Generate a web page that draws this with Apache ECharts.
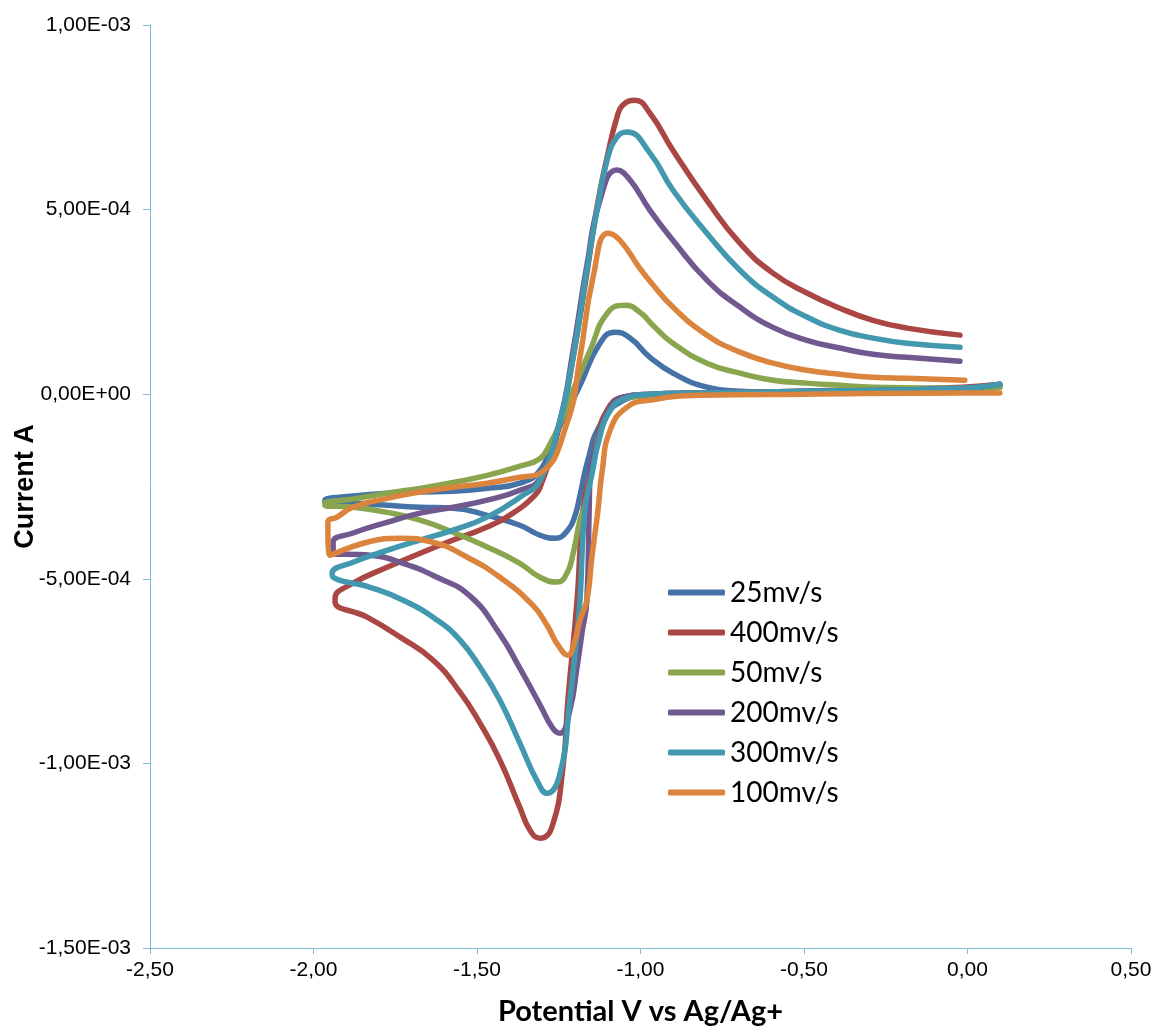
<!DOCTYPE html>
<html><head><meta charset="utf-8">
<script src="https://cdn.jsdelivr.net/npm/echarts@6/dist/echarts.min.js"></script>
<style>html,body{margin:0;padding:0;background:#fff}#c{width:1155px;height:1029px}</style>
</head><body><div id="c"></div>
<script>
// Series names (legend order)
const seriesNames = ['25mv/s', '400mv/s', '50mv/s', '200mv/s', '300mv/s', '100mv/s'];
const seriesColors = ['#4572A7', '#AA4643', '#89A54E', '#71588F', '#4198AF', '#DB843D'];

// Tick labels
const xTickLabels = ['-2,50', '-2,00', '-1,50', '-1,00', '-0,50', '0,00', '0,50'];
const yTickLabels = ['-1,50E-03', '-1,00E-03', '-5,00E-04', '0,00E+00', '5,00E-04', '1,00E-03'];

// Cyclic voltammograms: [potential V, current A]
const cv25 = [
  [0.099, 1.9e-5], [-0.014, 1.1e-5], [-0.5, 5e-6], [-0.818, 3e-6], [-0.971, -3e-6], [-1.063, -2.2e-5],
  [-1.124, -8.4e-5], [-1.161, -1.79e-4], [-1.185, -2.74e-4], [-1.200, -3.28e-4], [-1.222, -3.68e-4],
  [-1.261, -3.90e-4], [-1.307, -3.82e-4], [-1.369, -3.55e-4], [-1.469, -3.28e-4], [-1.573, -3.09e-4],
  [-1.674, -3.06e-4], [-1.775, -3.01e-4], [-1.879, -2.95e-4], [-1.965, -2.93e-4],
  [-1.965, -2.87e-4], [-1.879, -2.76e-4], [-1.775, -2.68e-4], [-1.674, -2.65e-4], [-1.573, -2.63e-4],
  [-1.469, -2.55e-4], [-1.369, -2.41e-4], [-1.307, -2.06e-4], [-1.268, -1.25e-4], [-1.225, -4.9e-5],
  [-1.185, 2.4e-5], [-1.124, 1.38e-4], [-1.078, 1.68e-4], [-1.032, 1.52e-4], [-0.971, 1.00e-4],
  [-0.901, 5.7e-5], [-0.797, 1.9e-5], [-0.696, 8e-6], [-0.595, 5e-6], [-0.008, 5e-6]
];
const cv400 = [
  [0.099, 2.7e-5], [-0.014, 1.9e-5], [-0.5, 8e-6], [-0.818, 3e-6], [-0.971, 0], [-1.054, -8e-6],
  [-1.102, -4.3e-5], [-1.133, -1.25e-4], [-1.154, -2.14e-4], [-1.176, -3.14e-4], [-1.194, -5.58e-4],
  [-1.222, -8.29e-4], [-1.237, -1.010e-3], [-1.271, -1.173e-3], [-1.307, -1.203e-3], [-1.338, -1.181e-3],
  [-1.369, -1.119e-3], [-1.430, -9.91e-4], [-1.491, -8.91e-4], [-1.552, -8.07e-4], [-1.635, -7.20e-4],
  [-1.735, -6.58e-4], [-1.836, -6.04e-4], [-1.934, -5.63e-4],
  [-1.934, -5.53e-4], [-1.879, -5.12e-4], [-1.775, -4.69e-4], [-1.674, -4.31e-4], [-1.573, -3.95e-4],
  [-1.469, -3.60e-4], [-1.390, -3.22e-4], [-1.329, -2.79e-4], [-1.307, -2.52e-4], [-1.246, -7.9e-5],
  [-1.206, 1.00e-4], [-1.164, 3.28e-4], [-1.133, 5.07e-4], [-1.102, 6.42e-4], [-1.072, 7.50e-4],
  [-1.054, 7.83e-4], [-1.017, 7.96e-4], [-0.971, 7.61e-4], [-0.901, 6.61e-4],
  [-0.797, 5.25e-4], [-0.696, 4.09e-4], [-0.595, 3.28e-4], [-0.491, 2.74e-4], [-0.390, 2.33e-4],
  [-0.289, 2.00e-4], [-0.185, 1.79e-4], [-0.023, 1.60e-4]
];
const cv50 = [
  [0.099, 1.9e-5], [-0.014, 1.1e-5], [-0.5, 5e-6], [-0.818, 3e-6], [-0.971, -3e-6], [-1.063, -1.6e-5],
  [-1.109, -7.0e-5], [-1.139, -1.52e-4], [-1.154, -2.33e-4], [-1.170, -3.01e-4], [-1.185, -3.41e-4],
  [-1.206, -4.31e-4], [-1.225, -4.85e-4], [-1.255, -5.09e-4], [-1.307, -4.96e-4], [-1.369, -4.58e-4],
  [-1.469, -4.14e-4], [-1.573, -3.74e-4], [-1.674, -3.41e-4], [-1.775, -3.20e-4], [-1.879, -3.06e-4],
  [-1.965, -3.01e-4],
  [-1.965, -2.95e-4], [-1.879, -2.84e-4], [-1.775, -2.68e-4], [-1.674, -2.55e-4], [-1.573, -2.39e-4],
  [-1.469, -2.20e-4], [-1.369, -1.95e-4], [-1.307, -1.74e-4], [-1.277, -1.35e-4], [-1.246, -7.9e-5],
  [-1.206, 1.1e-5], [-1.154, 1.19e-4], [-1.102, 2.19e-4], [-1.047, 2.41e-4],
  [-1.002, 2.22e-4], [-0.960, 1.85e-4], [-0.901, 1.38e-4], [-0.797, 8.4e-5], [-0.696, 5.7e-5],
  [-0.595, 3.8e-5], [-0.491, 3.0e-5], [-0.390, 2.4e-5], [-0.289, 1.9e-5], [-0.008, 1.6e-5]
];
const cv200 = [
  [0.099, 2.7e-5], [-0.014, 1.6e-5], [-0.5, 8e-6], [-0.818, 3e-6], [-0.971, 0], [-1.054, -8e-6],
  [-1.099, -4.6e-5], [-1.130, -1.25e-4], [-1.154, -2.14e-4], [-1.157, -3.14e-4], [-1.164, -5.58e-4],
  [-1.179, -6.47e-4], [-1.194, -7.39e-4], [-1.216, -8.56e-4], [-1.246, -9.18e-4], [-1.268, -9.05e-4],
  [-1.307, -8.42e-4], [-1.369, -7.42e-4], [-1.430, -6.50e-4], [-1.521, -5.47e-4],
  [-1.622, -4.96e-4], [-1.726, -4.58e-4], [-1.827, -4.36e-4], [-1.940, -4.31e-4],
  [-1.940, -4.01e-4], [-1.879, -3.76e-4], [-1.775, -3.47e-4], [-1.674, -3.22e-4], [-1.573, -3.06e-4],
  [-1.469, -2.87e-4], [-1.369, -2.60e-4], [-1.307, -2.28e-4], [-1.246, -7.0e-5], [-1.206, 1.19e-4],
  [-1.164, 3.49e-4], [-1.124, 5.25e-4], [-1.072, 6.07e-4], [-1.032, 5.80e-4],
  [-0.971, 4.98e-4], [-0.901, 4.17e-4], [-0.797, 3.09e-4], [-0.696, 2.36e-4], [-0.595, 1.81e-4],
  [-0.491, 1.46e-4], [-0.390, 1.25e-4], [-0.289, 1.08e-4], [-0.185, 1.00e-4], [-0.023, 8.9e-5]
];
const cv300 = [
  [0.099, 2.7e-5], [-0.014, 1.6e-5], [-0.5, 8e-6], [-0.818, 3e-6], [-0.971, 0], [-1.047, -1.1e-5],
  [-1.096, -4.9e-5], [-1.127, -1.25e-4], [-1.148, -2.14e-4], [-1.170, -3.14e-4], [-1.185, -5.58e-4],
  [-1.194, -6.47e-4], [-1.216, -8.29e-4], [-1.246, -1.027e-3], [-1.286, -1.081e-3], [-1.317, -1.046e-3],
  [-1.369, -9.45e-4], [-1.430, -8.29e-4], [-1.491, -7.39e-4], [-1.552, -6.66e-4], [-1.622, -6.12e-4],
  [-1.726, -5.58e-4], [-1.827, -5.23e-4], [-1.940, -4.96e-4],
  [-1.943, -4.85e-4], [-1.879, -4.55e-4], [-1.775, -4.23e-4], [-1.674, -3.95e-4], [-1.573, -3.68e-4],
  [-1.469, -3.33e-4], [-1.369, -2.79e-4], [-1.307, -2.33e-4], [-1.246, -7.0e-5], [-1.206, 1.00e-4],
  [-1.164, 3.36e-4], [-1.133, 4.98e-4], [-1.102, 6.34e-4], [-1.072, 6.96e-4], [-1.041, 7.10e-4],
  [-0.971, 6.53e-4], [-0.901, 5.53e-4], [-0.797, 4.36e-4], [-0.696, 3.36e-4],
  [-0.595, 2.63e-4], [-0.491, 2.09e-4], [-0.390, 1.73e-4], [-0.289, 1.52e-4], [-0.185, 1.38e-4],
  [-0.023, 1.27e-4]
];
const cv100 = [
  [0.099, 3e-6], [-0.014, 3e-6], [-0.5, 0], [-0.818, -3e-6], [-0.971, -1.6e-5], [-1.041, -3.5e-5],
  [-1.093, -9.8e-5], [-1.118, -2.14e-4], [-1.130, -3.14e-4], [-1.148, -4.36e-4], [-1.164, -5.58e-4],
  [-1.185, -6.12e-4], [-1.200, -6.66e-4], [-1.222, -7.07e-4], [-1.252, -6.80e-4], [-1.286, -6.26e-4],
  [-1.329, -5.72e-4], [-1.430, -4.96e-4], [-1.531, -4.41e-4], [-1.635, -4.01e-4], [-1.735, -3.90e-4],
  [-1.836, -4.01e-4], [-1.950, -4.36e-4],
  [-1.956, -3.47e-4], [-1.928, -3.33e-4], [-1.879, -3.06e-4], [-1.775, -2.82e-4], [-1.674, -2.65e-4],
  [-1.573, -2.52e-4], [-1.469, -2.41e-4], [-1.369, -2.25e-4], [-1.307, -2.14e-4], [-1.225, -7.9e-5],
  [-1.185, 1.00e-4], [-1.145, 3.17e-4], [-1.099, 4.36e-4], [-1.063, 4.17e-4],
  [-1.002, 3.41e-4], [-0.971, 3.06e-4], [-0.901, 2.36e-4], [-0.797, 1.60e-4],
  [-0.696, 1.14e-4], [-0.595, 8.4e-5], [-0.491, 6.5e-5], [-0.390, 5.4e-5], [-0.289, 4.6e-5],
  [-0.185, 4.3e-5], [-0.008, 3.8e-5]
];
const seriesData = [cv25, cv400, cv50, cv200, cv300, cv100];

const X_MIN = -2.5, X_MAX = 0.5, X_INT = 0.5;
const Y_MIN = -1.5e-3, Y_MAX = 1e-3, Y_INT = 5e-4;
const axisColor = '#7DBCD6';

const chart = echarts.init(document.getElementById('c'), null, { renderer: 'canvas' });
chart.setOption({
  animation: false,
  backgroundColor: '#ffffff',
  grid: { left: 150, right: 24, top: 25, bottom: 81, containLabel: false, outerBoundsMode: 'none' },
  legend: {
    orient: 'vertical', left: 668, top: 578, padding: 0,
    itemWidth: 57, itemHeight: 6, itemGap: 11, icon: 'roundRect',
    data: seriesNames.map((n, i) => ({ name: n, itemStyle: { color: seriesColors[i] } })),
    textStyle: { fontFamily: 'Lato', fontSize: 28, lineHeight: 29, color: '#000' }
  },
  xAxis: {
    type: 'value', min: X_MIN, max: X_MAX, interval: X_INT,
    axisLine: { onZero: false, lineStyle: { color: axisColor, width: 1 } },
    axisTick: { show: true, length: 6, lineStyle: { color: axisColor } },
    splitLine: { show: false },
    axisLabel: {
      formatter: v => xTickLabels[Math.round((v - X_MIN) / X_INT)],
      fontFamily: 'Liberation Sans', fontSize: 21, color: '#000', margin: 12
    },
    name: 'Potential V vs Ag/Ag+', nameLocation: 'middle', nameGap: 49, nameMoveOverlap: false,
    nameTextStyle: { fontFamily: 'Lato', fontWeight: 'bold', fontSize: 29, color: '#000' }
  },
  yAxis: {
    type: 'value', min: Y_MIN, max: Y_MAX, interval: Y_INT,
    axisLine: { show: true, onZero: false, lineStyle: { color: axisColor, width: 1 } },
    axisTick: { show: true, length: 7, lineStyle: { color: axisColor } },
    splitLine: { show: false },
    axisLabel: {
      formatter: v => yTickLabels[Math.round((v - Y_MIN) / Y_INT)],
      fontFamily: 'Liberation Sans', fontSize: 21, color: '#000', margin: 19
    },
    name: 'Current A', nameLocation: 'middle', nameGap: 111, nameRotate: 90, nameMoveOverlap: false,
    nameTextStyle: { fontFamily: 'Liberation Sans', fontWeight: 'bold', fontSize: 27, color: '#000' }
  },
  series: seriesNames.map((n, i) => ({
    name: n, type: 'line', data: seriesData[i],
    symbol: 'none', showSymbol: false, smooth: 0.5,
    lineStyle: { width: 5.5, color: seriesColors[i], cap: 'round', join: 'round' },
    itemStyle: { color: seriesColors[i] },
    emphasis: { disabled: true }, z: 2 + i
  }))
});
</script></body></html>
